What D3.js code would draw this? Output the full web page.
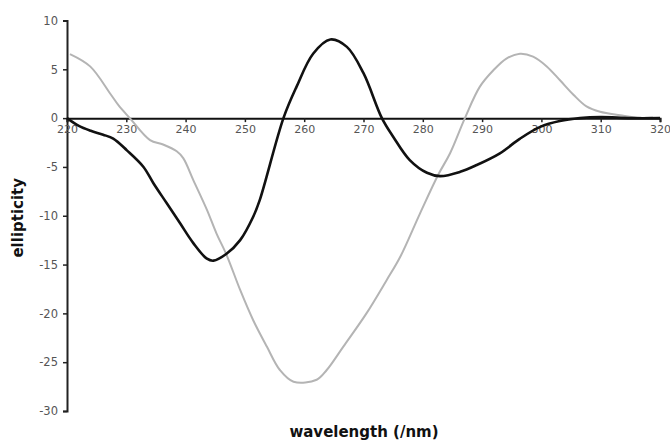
<!DOCTYPE html>
<html><head><meta charset="utf-8">
<script src="https://cdn.jsdelivr.net/npm/d3@7"></script>
<style>body{margin:0;background:#fff}svg{display:block}</style>
</head><body><div id="chart"></div>
<script>
const xTicks = [220,230,240,250,260,270,280,290,300,310,320];
const yTicks = [10,5,0,-5,-10,-15,-20,-25,-30];
const blackX = [220,222,224,226.1,227.8,230.1,232.9,234.6,236.8,239.1,241.3,243.6,244.7,246.9,249.2,251.4,252.5,256.5,258.7,261.5,264.4,267.2,270,273.1,275,277.8,280.7,282.9,286.3,289.1,293,296.4,299.8,303.1,306.5,310,315,320];
const blackY = [0,-0.8,-1.3,-1.7,-2.1,-3.3,-5.0,-6.7,-8.7,-10.8,-12.8,-14.4,-14.6,-13.9,-12.5,-10.1,-8.4,0,3.2,6.6,8.06,7.3,4.6,0,-1.9,-4.3,-5.6,-5.94,-5.5,-4.8,-3.6,-2.1,-0.9,-0.3,0,0.1,0,0];
const grayX = [220.5,223.9,227.3,228.7,230.6,234,236.2,238.5,239.6,241.3,243.6,245.2,246.9,249.2,251.4,253.7,255.9,258.2,262.1,263.8,266.6,270.5,273.9,276.2,279.5,282.6,284.6,287.1,289.6,291.9,294.1,296.4,298.6,300.9,303.1,305.4,307.6,309.9,313.3,316.6,318.8];
const grayY = [6.56,5.3,2.5,1.3,0,-2.25,-2.7,-3.4,-4.1,-6.35,-9.4,-11.8,-14.0,-17.6,-20.7,-23.4,-25.8,-27,-26.8,-25.8,-23.4,-20,-16.6,-14.2,-9.8,-5.8,-3.6,0,3.2,4.9,6.1,6.6,6.3,5.3,3.9,2.4,1.2,0.65,0.3,0.03,0.07];

const W = 670, H = 441;
const svg = d3.select("#chart").append("svg").attr("width", W).attr("height", H);
svg.append("rect").attr("width", W).attr("height", H).attr("fill", "#fff");

const x = d3.scaleLinear().domain([220, 320]).range([67, 660]);
const y = d3.scaleLinear().domain([-30, 10]).range([411, 20.5]);

const font = "Verdana, 'DejaVu Sans', sans-serif";
const fmt = d => String(d);

// y axis
const gy = svg.append("g").attr("transform", `translate(${x(220)},0)`)
  .call(d3.axisLeft(y).tickValues(yTicks).tickSize(4).tickPadding(5).tickFormat(fmt));
gy.select(".domain").attr("stroke", "#222").attr("stroke-width", 2);
gy.selectAll(".tick line").attr("stroke", "#222").attr("stroke-width", 1.5);
gy.selectAll(".tick text").attr("font-family", font).attr("font-size", 11.5).attr("fill", "#555");

// x axis at zero line
const gx = svg.append("g").attr("transform", `translate(0,${y(0)})`)
  .call(d3.axisBottom(x).tickValues(xTicks).tickSize(4).tickPadding(3).tickFormat(fmt));
gx.select(".domain").attr("stroke", "#111").attr("stroke-width", 2);
gx.selectAll(".tick line").attr("stroke", "#222").attr("stroke-width", 1.5);
gx.selectAll(".tick text").attr("font-family", font).attr("font-size", 11).attr("fill", "#555");

const line = d3.line().curve(d3.curveCatmullRom.alpha(0.5)).x(d => x(d[0])).y(d => y(d[1]));

svg.append("path").datum(grayX.map((v, i) => [v, grayY[i]]))
  .attr("d", line).attr("fill", "none").attr("stroke", "#b4b4b4").attr("stroke-width", 2);
svg.append("path").datum(blackX.map((v, i) => [v, blackY[i]]))
  .attr("d", line).attr("fill", "none").attr("stroke", "#111").attr("stroke-width", 2.6);

svg.append("text").attr("transform", `translate(23,${(y(10)+y(-30))/2 + 2}) rotate(-90)`)
  .attr("text-anchor", "middle").attr("font-family", font).attr("font-weight", "bold")
  .attr("font-size", 15).attr("fill", "#111").text("ellipticity");
svg.append("text").attr("x", 364).attr("y", 437)
  .attr("text-anchor", "middle").attr("font-family", font).attr("font-weight", "bold")
  .attr("font-size", 15).attr("fill", "#111").text("wavelength (/nm)");
</script></body></html>
